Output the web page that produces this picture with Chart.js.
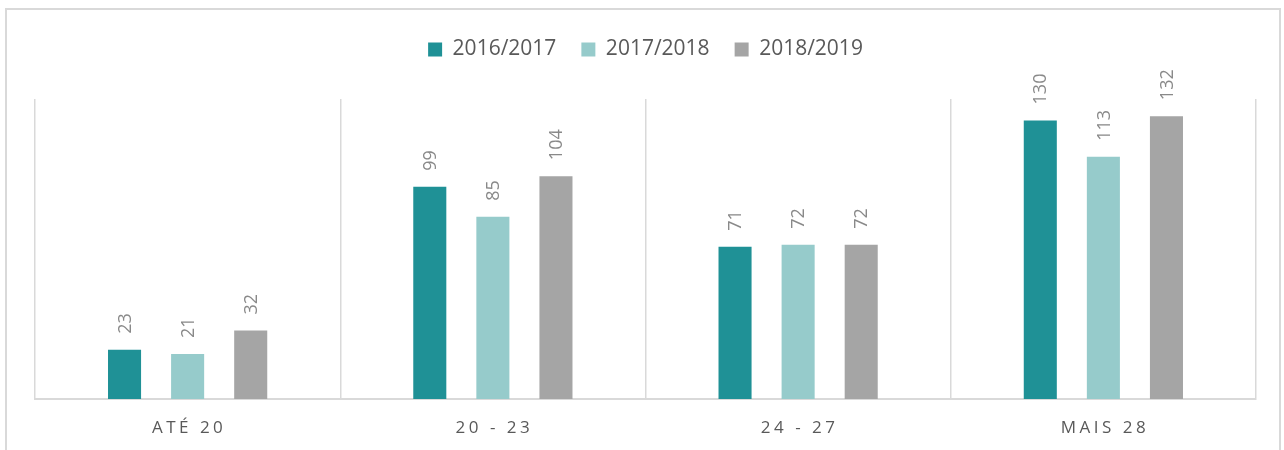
<!DOCTYPE html>
<html>
<head>
<meta charset="utf-8">
<script src="https://cdn.jsdelivr.net/npm/chart.js@4/dist/chart.umd.min.js"></script>
<style>
    html, body { margin: 0; padding: 0; background: #fff; overflow: hidden; }
    #frame { position: absolute; left: 5px; top: 8px; width: 1276px; height: 480px; border: 2px solid #d9d9d9; box-sizing: border-box; }
    #wrap { position: absolute; left: 0; top: 0; width: 1284px; height: 450px; }
</style>
</head>
<body>
<div id="frame"></div>
<div id="wrap"><canvas id="myBarChart"></canvas></div>
<script>
// Datos del gráfico
const categorias = ['ATÉ 20', '20 - 23', '24 - 27', 'MAIS 28'];
const anos = ['2016/2017', '2017/2018', '2018/2019'];
const valores1617 = [23, 99, 71, 130];
const valores1718 = [21, 85, 72, 113];
const valores1819 = [32, 104, 72, 132];
const colores = ['#1f9196', '#96cbcb', '#a5a5a5'];

const fuente = "'Open Sans', 'Noto Sans', sans-serif";

// Etiquetas de valor giradas encima de cada barra
const etiquetasValor = {
    id: 'etiquetasValor',
    afterDatasetsDraw(chart) {
        const ctx = chart.ctx;
        chart.data.datasets.forEach((ds, i) => {
            const meta = chart.getDatasetMeta(i);
            meta.data.forEach((bar, j) => {
                ctx.save();
                ctx.translate(bar.x, bar.y - 16);
                ctx.rotate(-Math.PI / 2);
                ctx.font = '18px ' + fuente;
                ctx.fillStyle = '#898989';
                ctx.textAlign = 'left';
                ctx.textBaseline = 'middle';
                ctx.fillText(ds.data[j], 0, 1);
                ctx.restore();
            });
        });
    }
};

// Etiquetas del eje x con espaciado entre letras
const etiquetasEje = {
    id: 'etiquetasEje',
    afterDraw(chart) {
        const ctx = chart.ctx;
        const x = chart.scales.x;
        ctx.save();
        ctx.font = '17px ' + fuente;
        ctx.fillStyle = '#595959';
        ctx.textAlign = 'center';
        ctx.textBaseline = 'middle';
        ctx.letterSpacing = '3.5px';
        chart.data.labels.forEach((lab, i) => {
            ctx.fillText(lab, x.getPixelForValue(i) + 1.5, 428);
        });
        ctx.restore();
    }
};

// Espacio extra debajo de la leyenda
const margenLeyenda = {
    id: 'margenLeyenda',
    beforeInit(chart) {
        const fitOriginal = chart.legend.fit;
        chart.legend.fit = function () {
            fitOriginal.bind(chart.legend)();
            this.height = 85;
        };
    }
};

const ctxBar = document.getElementById('myBarChart').getContext('2d');
const barChart = new Chart(ctxBar, {
    type: 'bar',
    data: {
        labels: categorias,
        datasets: [
            { label: anos[0], data: valores1617, backgroundColor: colores[0] },
            { label: anos[1], data: valores1718, backgroundColor: colores[1] },
            { label: anos[2], data: valores1819, backgroundColor: colores[2] }
        ]
    },
    options: {
        responsive: true,
        maintainAspectRatio: false,
        animation: false,
        categoryPercentage: 0.62,
        barPercentage: 0.524,
        layout: { padding: { left: 35, right: 28, top: 14, bottom: 51 } },
        scales: {
            x: {
                grid: { display: true, color: '#d9d9d9', lineWidth: 1.5, offset: true, drawTicks: false },
                border: { display: true, color: '#d9d9d9', width: 2 },
                ticks: { display: false }
            },
            y: {
                display: false,
                min: 0,
                max: 140
            }
        },
        plugins: {
            legend: {
                position: 'top',
                labels: {
                    boxWidth: 14,
                    boxHeight: 14,
                    padding: 25,
                    color: '#595959',
                    font: { size: 21, family: fuente }
                }
            },
            tooltip: { enabled: false }
        }
    },
    plugins: [etiquetasValor, etiquetasEje, margenLeyenda]
});
</script>
</body>
</html>
